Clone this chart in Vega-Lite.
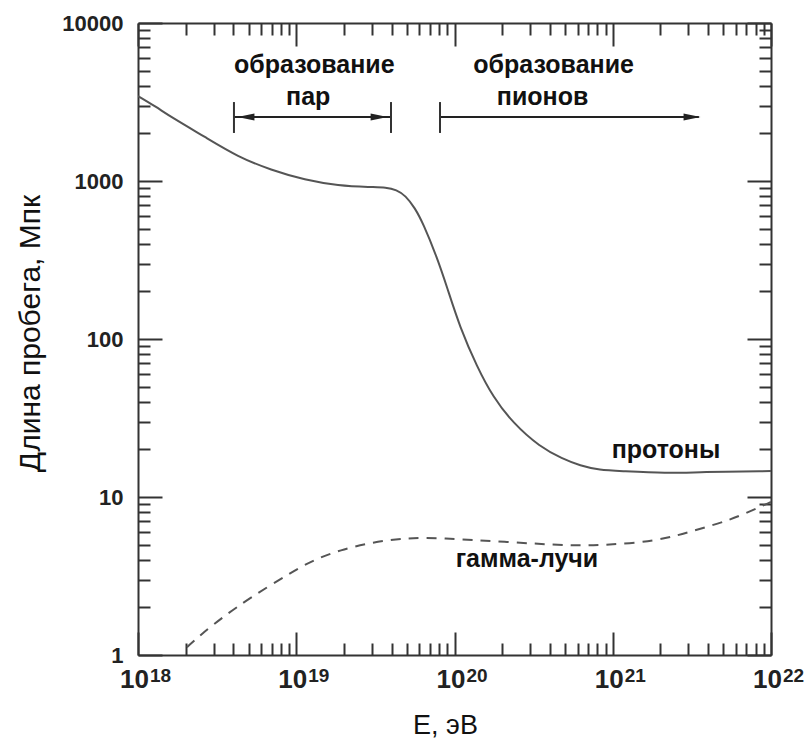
{
  "$schema": "https://vega.github.io/schema/vega-lite/v6.json",
  "width": 633,
  "height": 632,
  "autosize": {"type": "none"},
  "padding": {"left": 138, "top": 23, "right": 37, "bottom": 83},
  "background": "white",
  "config": {
    "view": {"stroke": null},
    "axis": {"grid": false, "domainColor": "#333", "tickColor": "#333", "domainWidth": 2, "tickWidth": 2, "labelFont": "Liberation Sans", "titleFont": "Liberation Sans"}
  },
  "datasets": {
    "proton": [
      {"E": 1e18, "L": 3450}, {"E": 1.3e18, "L": 2950}, {"E": 1.62e18, "L": 2540}, {"E": 2.65e18, "L": 1900}, {"E": 4.29e18, "L": 1420},
      {"E": 6.92e18, "L": 1175}, {"E": 1.135e19, "L": 1015}, {"E": 1.84e19, "L": 935}, {"E": 2.96e19, "L": 915},
      {"E": 3.7e19, "L": 912}, {"E": 4.3e19, "L": 880}, {"E": 4.9e19, "L": 810}, {"E": 5.62e19, "L": 675}, {"E": 6.32e19, "L": 542},
      {"E": 7.74e19, "L": 330}, {"E": 8.97e19, "L": 213}, {"E": 1.08e20, "L": 119}, {"E": 1.39e20, "L": 66.5},
      {"E": 1.75e20, "L": 43}, {"E": 2.34e20, "L": 29.4}, {"E": 3.47e20, "L": 20.7}, {"E": 4.8e20, "L": 17.5}, {"E": 6.21e20, "L": 15.8},
      {"E": 8.3e20, "L": 14.8}, {"E": 1.11e21, "L": 14.6}, {"E": 2.2e21, "L": 14.1}, {"E": 3.56e21, "L": 14.4},
      {"E": 1e22, "L": 14.6}
    ],
    "gamma": [
      {"E": 2.04e18, "L": 1.12}, {"E": 2.5e18, "L": 1.35}, {"E": 3.44e18, "L": 1.74}, {"E": 5.1e18, "L": 2.3}, {"E": 9.14e18, "L": 3.3},
      {"E": 1.28e19, "L": 3.99}, {"E": 1.89e19, "L": 4.62}, {"E": 3.05e19, "L": 5.19}, {"E": 5.01e19, "L": 5.51},
      {"E": 8.1e19, "L": 5.51}, {"E": 2.15e20, "L": 5.19}, {"E": 5.61e20, "L": 4.9}, {"E": 9.2e20, "L": 4.97},
      {"E": 1.9e21, "L": 5.25}, {"E": 3.21e21, "L": 6.1}, {"E": 5.51e21, "L": 7.14}, {"E": 7.69e21, "L": 8.28},
      {"E": 1e22, "L": 9.3}
    ],
    "labels": [
      {"E": 1.3e19, "L": 4830, "label": "образование"},
      {"E": 1.19e19, "L": 3030, "label": "пар"},
      {"E": 4.23e20, "L": 4830, "label": "образование"},
      {"E": 3.6e20, "L": 3030, "label": "пионов"},
      {"E": 2.17e21, "L": 17.7, "label": "протоны"},
      {"E": 2.87e20, "L": 3.61, "label": "гамма-лучи"}
    ],
    "hrules": [
      {"E1": 4.04e18, "E2": 3.97e19, "L": 2540},
      {"E1": 8.1e19, "E2": 3.5e21, "L": 2540}
    ],
    "vrules": [
      {"E": 4.04e18, "L1": 2014, "L2": 3160},
      {"E": 3.97e19, "L1": 2014, "L2": 3160},
      {"E": 8.1e19, "L1": 2014, "L2": 3160}
    ],
    "heads": [
      {"E": 4.81e18, "L": 2540, "dir": "left"},
      {"E": 3.34e19, "L": 2540, "dir": "right"},
      {"E": 3.17e21, "L": 2540, "dir": "right"}
    ]
  },
  "resolve": {"axis": {"x": "independent", "y": "independent"}},
  "layer": [
    {
      "data": {"name": "proton"},
      "mark": {"type": "line", "color": "#555", "strokeWidth": 2, "interpolate": "basis", "clip": true},
      "encoding": {
        "x": {"field": "E", "type": "quantitative", "scale": {"type": "log", "domain": [1e18, 1e22], "nice": false},
          "axis": {"orient": "bottom", "values": [1e18, 1e19, 1e20, 1e21, 1e22], "labelExpr": "'10'", "tickSize": -23,
            "labelPadding": 34, "labelOffset": -4, "labelFontSize": 26, "labelFontWeight": "bold", "labelColor": "#222",
            "labelBaseline": "top", "labelFlush": false, "labelOverlap": false, "labelBound": false,
            "title": "E, эВ", "titleFontSize": 27, "titleFontWeight": "normal", "titleColor": "#111",
            "titleX": 307, "titleY": 70, "titleBaseline": "middle", "titleAlign": "center"}},
        "y": {"field": "L", "type": "quantitative", "scale": {"type": "log", "domain": [1, 10000], "nice": false},
          "axis": {"orient": "left", "values": [1, 10, 100, 1000, 10000], "format": "d", "tickSize": -24,
            "labelPadding": 39, "labelFontSize": 22, "labelFontWeight": "bold", "labelColor": "#222",
            "labelBaseline": "middle", "labelFlush": false, "labelOverlap": false, "labelBound": false,
            "title": "Длина пробега, Мпк", "titleFontSize": 30, "titleFontWeight": "normal", "titleColor": "#111",
            "titleX": -108, "titleY": 310, "titleAngle": -90, "titleBaseline": "middle", "titleAlign": "center"}}
      }
    },
    {
      "data": {"name": "gamma"},
      "mark": {"type": "line", "color": "#555", "strokeWidth": 2, "strokeDash": [10, 8], "interpolate": "basis", "clip": true},
      "encoding": {
        "x": {"field": "E", "type": "quantitative",
          "axis": {"orient": "bottom", "values": [2e18, 3e18, 4e18, 5e18, 6e18, 7e18, 8e18, 9e18, 2e19, 3e19, 4e19, 5e19, 6e19, 7e19, 8e19, 9e19, 2e20, 3e20, 4e20, 5e20, 6e20, 7e20, 8e20, 9e20, 2e21, 3e21, 4e21, 5e21, 6e21, 7e21, 8e21, 9e21],
            "tickSize": -12, "labels": false, "domain": false, "title": null}},
        "y": {"field": "L", "type": "quantitative",
          "axis": {"orient": "left", "values": [2, 3, 4, 5, 6, 7, 8, 9, 20, 30, 40, 50, 60, 70, 80, 90, 200, 300, 400, 500, 600, 700, 800, 900, 2000, 3000, 4000, 5000, 6000, 7000, 8000, 9000],
            "tickSize": -12, "labels": false, "domain": false, "title": null}}
      }
    },
    {
      "data": {"name": "labels"},
      "mark": {"type": "text", "font": "Liberation Sans", "fontWeight": "bold", "fontSize": 25, "align": "center", "baseline": "alphabetic", "color": "#111"},
      "encoding": {
        "x": {"field": "E", "type": "quantitative",
          "axis": {"orient": "top", "values": [1e18, 1e19, 1e20, 1e21, 1e22], "tickSize": -23, "labels": false, "title": null}},
        "y": {"field": "L", "type": "quantitative",
          "axis": {"orient": "right", "values": [1, 10, 100, 1000, 10000], "tickSize": -24, "labels": false, "title": null}},
        "text": {"field": "label"}
      }
    },
    {
      "data": {"name": "hrules"},
      "mark": {"type": "rule", "color": "#222", "strokeWidth": 2},
      "encoding": {
        "x": {"field": "E1", "type": "quantitative",
          "axis": {"orient": "top", "values": [2e18, 3e18, 4e18, 5e18, 6e18, 7e18, 8e18, 9e18, 2e19, 3e19, 4e19, 5e19, 6e19, 7e19, 8e19, 9e19, 2e20, 3e20, 4e20, 5e20, 6e20, 7e20, 8e20, 9e20, 2e21, 3e21, 4e21, 5e21, 6e21, 7e21, 8e21, 9e21],
            "tickSize": -12, "labels": false, "domain": false, "title": null}},
        "x2": {"field": "E2"},
        "y": {"field": "L", "type": "quantitative",
          "axis": {"orient": "right", "values": [2, 3, 4, 5, 6, 7, 8, 9, 20, 30, 40, 50, 60, 70, 80, 90, 200, 300, 400, 500, 600, 700, 800, 900, 2000, 3000, 4000, 5000, 6000, 7000, 8000, 9000],
            "tickSize": -12, "labels": false, "domain": false, "title": null}}
      }
    },
    {
      "data": {"name": "vrules"},
      "mark": {"type": "rule", "color": "#333", "strokeWidth": 2},
      "encoding": {
        "x": {"field": "E", "type": "quantitative", "axis": null},
        "y": {"field": "L1", "type": "quantitative", "axis": null},
        "y2": {"field": "L2"}
      }
    },
    {
      "data": {"name": "heads"},
      "mark": {"type": "point", "filled": true, "size": 289, "color": "#222", "opacity": 1},
      "encoding": {
        "x": {"field": "E", "type": "quantitative",
          "axis": {"orient": "bottom", "values": [1e18, 1e19, 1e20, 1e21, 1e22], "labelExpr": "'' + round(log(datum.value) / LN10)",
            "ticks": false, "domain": false, "labelPadding": 11, "labelOffset": 22, "labelFontSize": 19, "labelFontWeight": "bold",
            "labelColor": "#222", "labelBaseline": "top", "labelFlush": false, "labelOverlap": false, "labelBound": false, "title": null}},
        "y": {"field": "L", "type": "quantitative", "axis": null},
        "shape": {"field": "dir", "type": "nominal", "legend": null,
          "scale": {"domain": ["left", "right"], "range": ["M -1 0 L 1 -0.42 L 1 0.42 Z", "M 1 0 L -1 -0.42 L -1 0.42 Z"]}}
      }
    }
  ]
}
